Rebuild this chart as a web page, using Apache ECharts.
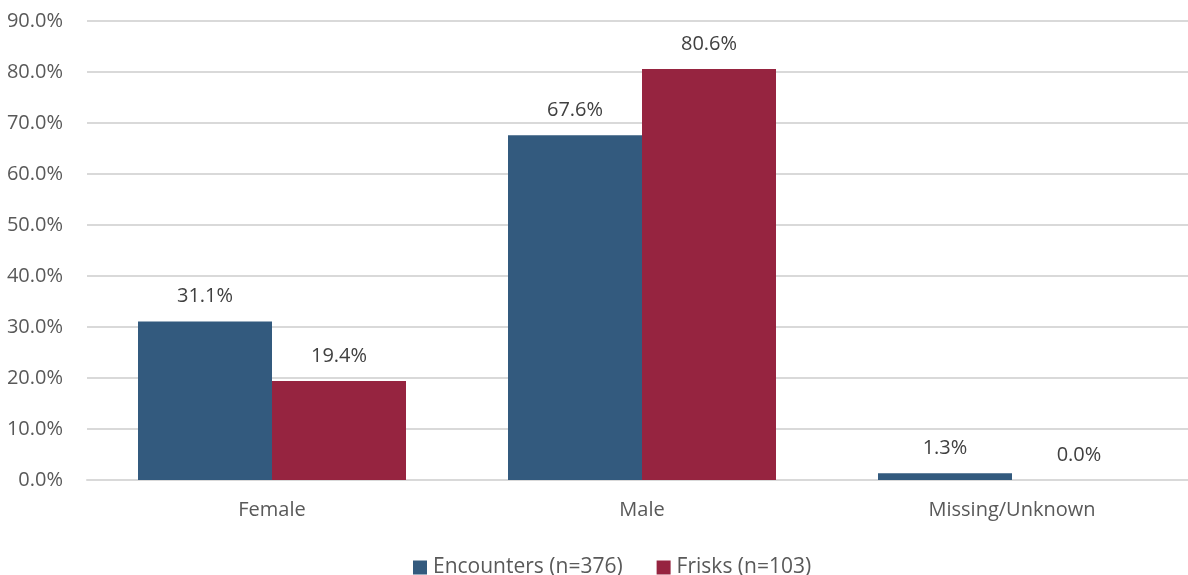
<!DOCTYPE html>
<html><head><meta charset="utf-8">
<script src="https://cdn.jsdelivr.net/npm/echarts@6/dist/echarts.min.js"></script>
<style>html,body{margin:0;padding:0;background:#fff;overflow:hidden;width:1188px;height:575px}#c{width:1197px;height:575px}</style>
</head><body><div id="c"></div>
<script>
const categories = ['Female', 'Male', 'Missing/Unknown'];
const encounters = [31.1, 67.6, 1.3];
const frisks = [19.4, 80.6, 0.0];
const seriesNames = ['Encounters (n=376)', 'Frisks (n=103)'];
const font = 'Open Sans';
const txt = '#595959';
const fs = 20;
const chart = echarts.init(document.getElementById('c'));
const lbl = {show: true, position: 'top', distance: 15, color: '#404040', fontSize: fs, fontFamily: font,
  formatter: p => p.value.toFixed(1) + '%'};
chart.setOption({
  animation: false,
  grid: {left: 87, top: 21, right: 0, height: 459},
  legend: {top: 552, left: 408, itemWidth: 14, itemHeight: 14, itemGap: 34, icon: 'rect',
    textStyle: {color: txt, fontSize: 21, fontFamily: font, padding: [0, 0, 0, 1]}, data: seriesNames},
  xAxis: {type: 'category', data: categories,
    axisLine: {lineStyle: {color: '#d9d9d9', width: 2}}, axisTick: {show: false},
    axisLabel: {color: txt, fontSize: fs, fontFamily: font, margin: 20}},
  yAxis: {type: 'value', min: 0, max: 90, interval: 10,
    axisLabel: {color: txt, fontSize: fs, fontFamily: font, margin: 24, formatter: v => v.toFixed(1) + '%'},
    splitLine: {lineStyle: {color: '#d9d9d9', width: 2}}, axisLine: {show: false}, axisTick: {show: false}},
  series: [
    {name: seriesNames[0], type: 'bar', data: encounters, barWidth: 134, barGap: '0%',
      itemStyle: {color: '#335A7E'}, label: lbl},
    {name: seriesNames[1], type: 'bar', data: frisks, barWidth: 134,
      itemStyle: {color: '#962440'}, label: lbl}
  ]
});
</script></body></html>
